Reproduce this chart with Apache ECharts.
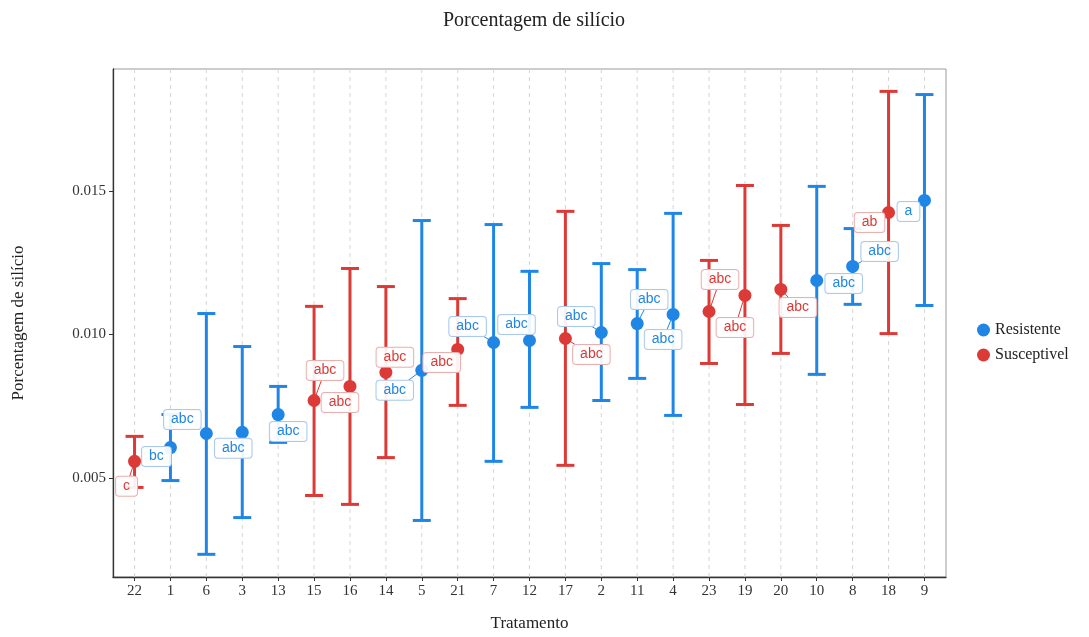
<!DOCTYPE html>
<html>
<head>
<meta charset="utf-8">
<script src="https://cdn.jsdelivr.net/npm/echarts@6/dist/echarts.min.js"></script>
<style>
  html, body { margin: 0; padding: 0; background: #fff; }
  #chart { width: 1089px; height: 637px; }
</style>
</head>
<body>
<div id="chart"></div>
<script>
// Tratamentos in plotting order (sorted by mean)
const tratamentos = ['22','1','6','3','13','15','16','14','5','21','7','12','17','2','11','4','23','19','20','10','8','18','9'];
const grupos = ['Susceptivel','Resistente','Resistente','Resistente','Resistente','Susceptivel','Susceptivel','Susceptivel','Resistente','Susceptivel','Resistente','Resistente','Susceptivel','Resistente','Resistente','Resistente','Susceptivel','Susceptivel','Susceptivel','Resistente','Resistente','Susceptivel','Resistente'];
const medias   = [0.00558,0.00606,0.00655,0.00659,0.00721,0.00770,0.00819,0.00868,0.00875,0.00948,0.00972,0.00979,0.00986,0.01007,0.01038,0.01070,0.01080,0.01136,0.01157,0.01188,0.01237,0.01425,0.01467];
const inferior = [0.00467,0.00491,0.00234,0.00362,0.00624,0.00439,0.00408,0.00571,0.00352,0.00753,0.00558,0.00746,0.00544,0.00770,0.00847,0.00718,0.00899,0.00756,0.00934,0.00861,0.01105,0.01003,0.01101];
const superior = [0.00645,0.00721,0.01073,0.00958,0.00819,0.01098,0.01230,0.01167,0.01397,0.01125,0.01383,0.01220,0.01429,0.01247,0.01226,0.01422,0.01258,0.01519,0.01380,0.01516,0.01369,0.01847,0.01836];
const letras   = ['c','bc','abc','abc','abc','abc','abc','abc','abc','abc','abc','abc','abc','abc','abc','abc','abc','abc','abc','abc','abc','ab','a'];
const yTicks = [0.005, 0.010, 0.015];
const nomesGrupos = ['Resistente', 'Susceptivel'];

// Label placement (pixel offsets of each letter box from its point)
const labelOffsets = [[-8,25],[-14,9],[-24,-14],[-9,16],[10,17],[11,-30],[-10,16],[9,-15],[-27,20],[-16,13],[-26,-16],[-13,-16],[26,16],[-25,-16],[12,-24],[-10,25],[11,-32],[-10,32],[17,18],[27,3],[27,-15],[-19,10],[-16,11]];

const cores = { Resistente: '#1f86e6', Susceptivel: '#dc3a36' };
const coresBorda = { Resistente: '#a9c9ee', Susceptivel: '#eab0ae' };
const serif = '"Liberation Serif", "DejaVu Serif", serif';

const chart = echarts.init(document.getElementById('chart'), null, { renderer: 'canvas' });

const idx = tratamentos.map((_, i) => i);

// dashed vertical guide at every treatment
const gradeSeries = {
  type: 'custom',
  name: 'grade',
  z: 1,
  silent: true,
  data: idx.map(i => [i]),
  encode: { x: 0 },
  renderItem: function (params, api) {
    const cs = params.coordSys;
    const x = api.coord([api.value(0), 0.01])[0];
    return {
      type: 'line',
      shape: { x1: x, y1: cs.y, x2: x, y2: cs.y + cs.height },
      style: { stroke: '#d6d6d6', lineWidth: 1, lineDash: [4, 4] }
    };
  }
};

const barrasSeries = {
  type: 'custom',
  name: 'erro',
  z: 3,
  data: idx.map(i => [i, inferior[i], superior[i]]),
  encode: { x: 0, y: [1, 2] },
  renderItem: function (params, api) {
    const i = api.value(0);
    const lo = api.coord([i, api.value(1)]);
    const hi = api.coord([i, api.value(2)]);
    const cor = cores[grupos[params.dataIndex]];
    const hw = 9;
    const st = { stroke: cor, lineWidth: 3 };
    return {
      type: 'group',
      children: [
        { type: 'line', shape: { x1: lo[0], y1: lo[1], x2: hi[0], y2: hi[1] }, style: st },
        { type: 'line', shape: { x1: lo[0] - hw, y1: lo[1], x2: lo[0] + hw, y2: lo[1] }, style: st },
        { type: 'line', shape: { x1: hi[0] - hw, y1: hi[1], x2: hi[0] + hw, y2: hi[1] }, style: st }
      ]
    };
  }
};

const pontosSeries = nomesGrupos.map(g => ({
  name: g,
  type: 'scatter',
  symbol: 'circle',
  symbolSize: 13,
  z: 5,
  itemStyle: { color: cores[g], opacity: 1 },
  data: idx.filter(i => grupos[i] === g).map(i => [i, medias[i]])
}));

const rotulosSeries = {
  type: 'custom',
  name: 'letras',
  z: 10,
  clip: false,
  data: idx.map(i => [i, medias[i]]),
  encode: { x: 0, y: 1 },
  renderItem: function (params, api) {
    const k = params.dataIndex;
    const p = api.coord([api.value(0), api.value(1)]);
    const off = labelOffsets[k];
    const g = grupos[k];
    const cx = p[0] + off[0], cy = p[1] + off[1];
    const hw = (letras[k].length * 7.6 + 14) / 2, hh = 10;
    const children = [];
    // connector segment from point to the box edge
    const vx = -off[0], vy = -off[1];
    const s = Math.min(vx !== 0 ? hw / Math.abs(vx) : Infinity, vy !== 0 ? hh / Math.abs(vy) : Infinity);
    if (s < 1) {
      const ex = cx + vx * s, ey = cy + vy * s;
      const d = Math.hypot(ex - p[0], ey - p[1]);
      if (d > 10) {
        children.push({ type: 'line', shape: { x1: p[0], y1: p[1], x2: ex, y2: ey }, style: { stroke: cores[g], lineWidth: 1 } });
      }
    }
    children.push({
      type: 'text',
      x: cx, y: cy,
      style: {
        text: letras[k],
        fill: cores[g],
        font: '14px "Liberation Sans", Arial, sans-serif',
        align: 'center',
        verticalAlign: 'middle',
        backgroundColor: 'rgba(255,255,255,0.92)',
        borderColor: coresBorda[g],
        borderWidth: 1,
        borderRadius: 3,
        padding: [3, 7, 2, 7]
      }
    });
    return { type: 'group', children: children };
  }
};

chart.setOption({
  animation: false,
  backgroundColor: '#ffffff',
  title: {
    text: 'Porcentagem de silício',
    left: 529,
    top: 6,
    textAlign: 'center',
    textStyle: { fontFamily: serif, fontSize: 20, fontWeight: 'normal', color: '#222' }
  },
  legend: {
    data: nomesGrupos,
    orient: 'vertical',
    left: 972,
    top: 317,
    icon: 'circle',
    itemWidth: 13,
    itemHeight: 13,
    itemGap: 9,
    textStyle: { fontFamily: serif, fontSize: 16, color: '#222' }
  },
  grid: {
    left: 113, right: 143, top: 69, bottom: 60,
    show: true, borderColor: '#9a9a9a', borderWidth: 1, backgroundColor: '#fff'
  },
  xAxis: {
    type: 'value',
    min: -0.6,
    max: 22.6,
    name: 'Tratamento',
    nameLocation: 'middle',
    nameGap: 38,
    nameTextStyle: { fontFamily: serif, fontSize: 17, color: '#222' },
    axisLine: { show: true, onZero: false, lineStyle: { color: '#333', width: 1.3 } },
    axisTick: { show: true, length: 4, customValues: idx, lineStyle: { color: '#333' } },
    axisLabel: {
      customValues: idx,
      formatter: v => tratamentos[Math.round(v)],
      fontFamily: serif, fontSize: 15, color: '#333', margin: 7
    },
    splitLine: { show: false }
  },
  yAxis: {
    type: 'value',
    min: 0.00155,
    max: 0.01925,
    name: 'Porcentagem de silício',
    nameLocation: 'middle',
    nameGap: 86,
    nameTextStyle: { fontFamily: serif, fontSize: 17, color: '#222' },
    axisLine: { show: true, onZero: false, lineStyle: { color: '#333', width: 1.3 } },
    axisTick: { show: true, length: 4, customValues: yTicks, lineStyle: { color: '#333' } },
    axisLabel: {
      customValues: yTicks,
      formatter: v => v.toFixed(3),
      fontFamily: serif, fontSize: 15, color: '#333', margin: 7
    },
    splitLine: { show: false }
  },
  series: [gradeSeries, barrasSeries].concat(pontosSeries).concat([rotulosSeries])
});
</script>
</body>
</html>
